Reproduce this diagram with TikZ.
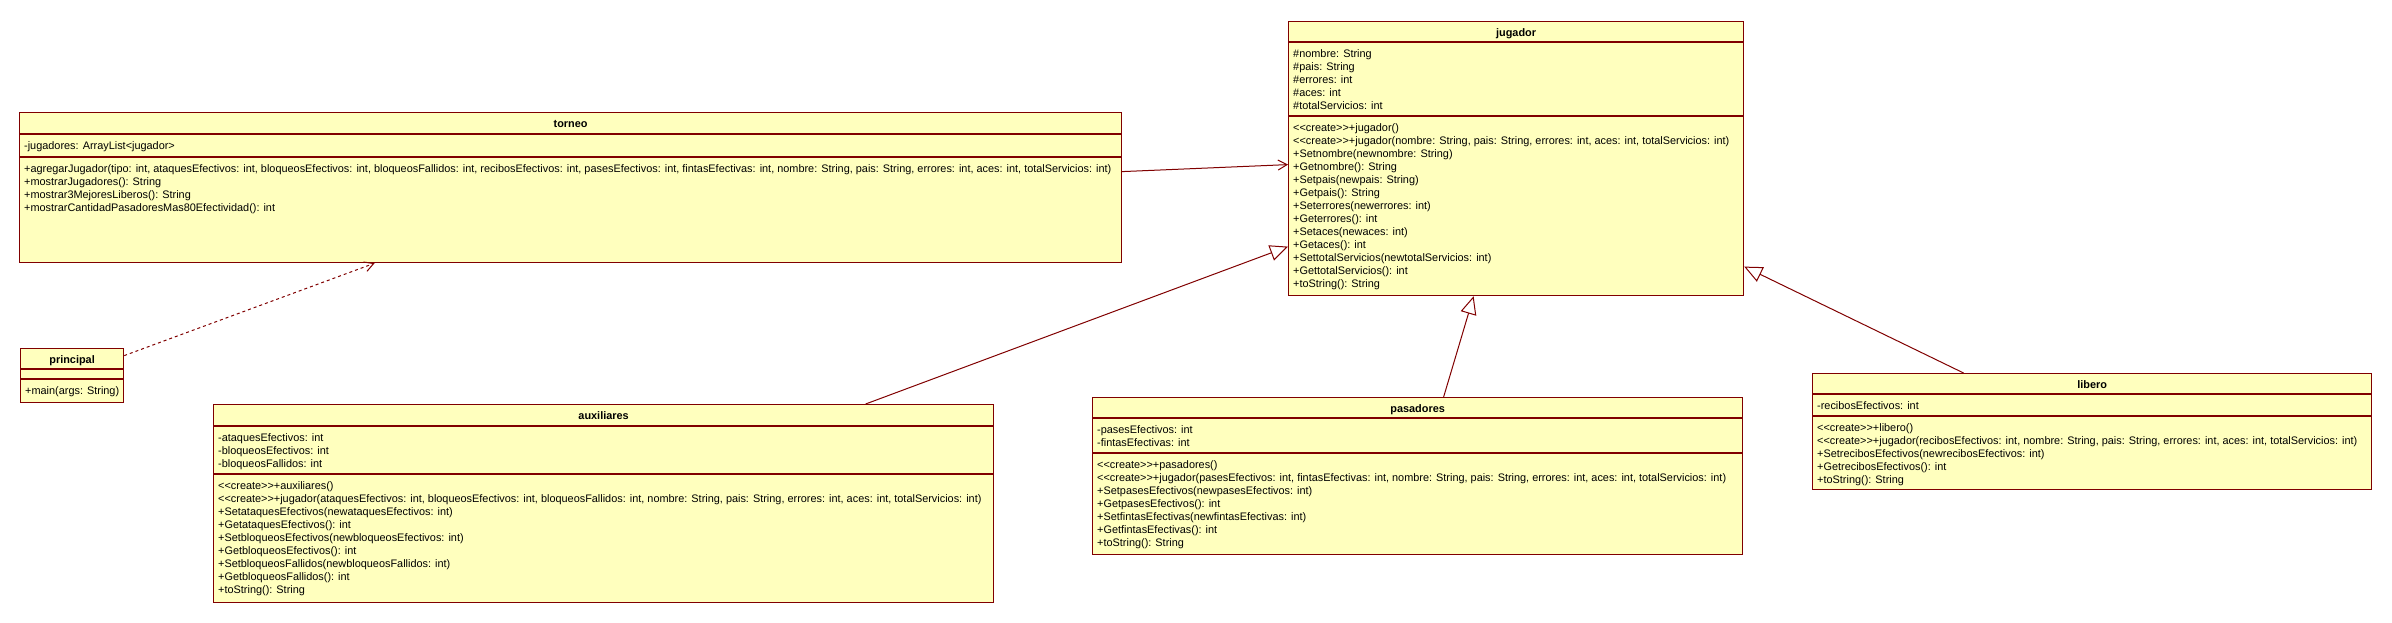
\documentclass[tikz,border=0pt]{standalone}
\usepackage{fontspec}
\setmainfont{Liberation Sans}
\usetikzlibrary{arrows.meta}
\definecolor{umlfill}{RGB}{255,255,190}
\definecolor{umlline}{RGB}{128,0,0}
\newcommand\crt{<{}<create>{}>}

\begin{document}
\begin{tikzpicture}[x=1pt, y=-1pt,
  classbox/.style={draw=umlline, fill=umlfill, line width=1.2pt, anchor=north west, inner sep=0pt},
  sepline/.style={umlline, line width=1.2pt},
  classtitle/.style={font=\fontsize{10.9}{13}\selectfont\bfseries, anchor=base, inner sep=0pt},
  member/.style={font=\fontsize{10.9}{13}\selectfont, anchor=base west, inner sep=0pt},
  gen/.style={umlline, line width=1pt, -{Triangle[open, length=18pt, width=16pt]}},
  assoc/.style={umlline, line width=1pt, -{Straight Barb[length=9pt, width=10pt]}},
  dep/.style={assoc, dash pattern=on 3pt off 3pt}]
\useasboundingbox (0,0) rectangle (2392,622);

% Define the class boxes
\node[classbox, minimum width=455, minimum height=274] (jugador) at (1288,21) {};
\node[classbox, minimum width=1102, minimum height=150] (torneo) at (19,112) {};
\node[classbox, minimum width=103, minimum height=54] (principal) at (20,348) {};
\node[classbox, minimum width=780, minimum height=198] (auxiliares) at (213,404) {};
\node[classbox, minimum width=650, minimum height=157] (pasadores) at (1092,397) {};
\node[classbox, minimum width=559, minimum height=116] (libero) at (1812,373) {};

% Compartment lines
\draw[sepline] ([yshift=-21pt]jugador.north west) -- ([yshift=-21pt]jugador.north east);
\draw[sepline] ([yshift=-95pt]jugador.north west) -- ([yshift=-95pt]jugador.north east);
\draw[sepline] ([yshift=-22pt]torneo.north west) -- ([yshift=-22pt]torneo.north east);
\draw[sepline] ([yshift=-45pt]torneo.north west) -- ([yshift=-45pt]torneo.north east);
\draw[sepline] ([yshift=-21pt]principal.north west) -- ([yshift=-21pt]principal.north east);
\draw[sepline] ([yshift=-31pt]principal.north west) -- ([yshift=-31pt]principal.north east);
\draw[sepline] ([yshift=-22pt]auxiliares.north west) -- ([yshift=-22pt]auxiliares.north east);
\draw[sepline] ([yshift=-70pt]auxiliares.north west) -- ([yshift=-70pt]auxiliares.north east);
\draw[sepline] ([yshift=-21pt]pasadores.north west) -- ([yshift=-21pt]pasadores.north east);
\draw[sepline] ([yshift=-56pt]pasadores.north west) -- ([yshift=-56pt]pasadores.north east);
\draw[sepline] ([yshift=-21pt]libero.north west) -- ([yshift=-21pt]libero.north east);
\draw[sepline] ([yshift=-43pt]libero.north west) -- ([yshift=-43pt]libero.north east);

% Class names
\node[classtitle] (jugadort) at ([yshift=-15pt]jugador.north) {jugador};
\node[classtitle] (torneot) at ([yshift=-15.5pt]torneo.north) {torneo};
\node[classtitle] (principalt) at ([yshift=-15pt]principal.north) {principal};
\node[classtitle] (auxiliarest) at ([yshift=-15.5pt]auxiliares.north) {auxiliares};
\node[classtitle] (pasadorest) at ([yshift=-15pt]pasadores.north) {pasadores};
\node[classtitle] (liberot) at ([yshift=-15pt]libero.north) {libero};

% jugador members
\foreach \t [count=\i from 0] in {\#nombre: String, \#pais: String, \#errores: int, \#aces: int, \#totalServicios: int}
  \node[member] (jugadora\i) at (1293,{57+13*\i}) {\t};
\foreach \t [count=\i from 0] in {{\crt+jugador()},
  {\crt+jugador(nombre: String, pais: String, errores: int, aces: int, totalServicios: int)},
  {+Setnombre(newnombre: String)}, {+Getnombre(): String}, {+Setpais(newpais: String)},
  {+Getpais(): String}, {+Seterrores(newerrores: int)}, {+Geterrores(): int},
  {+Setaces(newaces: int)}, {+Getaces(): int}, {+SettotalServicios(newtotalServicios: int)},
  {+GettotalServicios(): int}, {+toString(): String}}
  \node[member] (jugadorm\i) at (1293,{131+13*\i}) {\t};

% torneo members
\node[member] (torneoa0) at (24,149) {-jugadores: ArrayList<jugador>};
\foreach \t [count=\i from 0] in {{+agregarJugador(tipo: int, ataquesEfectivos: int, bloqueosEfectivos: int, bloqueosFallidos: int, recibosEfectivos: int, pasesEfectivos: int, fintasEfectivas: int, nombre: String, pais: String, errores: int, aces: int, totalServicios: int)},
  {+mostrarJugadores(): String}, {+mostrar3MejoresLiberos(): String},
  {+mostrarCantidadPasadoresMas80Efectividad(): int}}
  \node[member] (torneom\i) at (24,{172+13*\i}) {\t};

% principal members
\node[member] (principalm0) at (25,394) {+main(args: String)};

% auxiliares members
\foreach \t [count=\i from 0] in {-ataquesEfectivos: int, -bloqueosEfectivos: int, -bloqueosFallidos: int}
  \node[member] (auxiliaresa\i) at (218,{441+13*\i}) {\t};
\foreach \t [count=\i from 0] in {{\crt+auxiliares()},
  {\crt+jugador(ataquesEfectivos: int, bloqueosEfectivos: int, bloqueosFallidos: int, nombre: String, pais: String, errores: int, aces: int, totalServicios: int)},
  {+SetataquesEfectivos(newataquesEfectivos: int)}, {+GetataquesEfectivos(): int},
  {+SetbloqueosEfectivos(newbloqueosEfectivos: int)}, {+GetbloqueosEfectivos(): int},
  {+SetbloqueosFallidos(newbloqueosFallidos: int)}, {+GetbloqueosFallidos(): int},
  {+toString(): String}}
  \node[member] (auxiliaresm\i) at (218,{489+13*\i}) {\t};

% pasadores members
\foreach \t [count=\i from 0] in {-pasesEfectivos: int, -fintasEfectivas: int}
  \node[member] (pasadoresa\i) at (1097,{433+13*\i}) {\t};
\foreach \t [count=\i from 0] in {{\crt+pasadores()},
  {\crt+jugador(pasesEfectivos: int, fintasEfectivas: int, nombre: String, pais: String, errores: int, aces: int, totalServicios: int)},
  {+SetpasesEfectivos(newpasesEfectivos: int)}, {+GetpasesEfectivos(): int},
  {+SetfintasEfectivas(newfintasEfectivas: int)}, {+GetfintasEfectivas(): int},
  {+toString(): String}}
  \node[member] (pasadoresm\i) at (1097,{468+13*\i}) {\t};

% libero members
\node[member] (liberoa0) at (1817,409) {-recibosEfectivos: int};
\foreach \t [count=\i from 0] in {{\crt+libero()},
  {\crt+jugador(recibosEfectivos: int, nombre: String, pais: String, errores: int, aces: int, totalServicios: int)},
  {+SetrecibosEfectivos(newrecibosEfectivos: int)}, {+GetrecibosEfectivos(): int},
  {+toString(): String}}
  \node[member] (liberom\i) at (1817,{431+13*\i}) {\t};

% Draw the relations
\draw[assoc] ([yshift=16pt]torneo.east) -- ([yshift=-6pt]jugador.west);
\draw[dep] ([yshift=20pt]principal.east) -- ([xshift=-196pt]torneo.south);
\draw[gen] ([xshift=262pt]auxiliares.north) -- ([yshift=-88pt]jugador.west);
\draw[gen] ([xshift=26pt]pasadores.north) -- ([xshift=-42.5pt]jugador.south);
\draw[gen] ([xshift=-128.5pt]libero.north) -- ([yshift=-108pt]jugador.east);
\end{tikzpicture}
\end{document}
